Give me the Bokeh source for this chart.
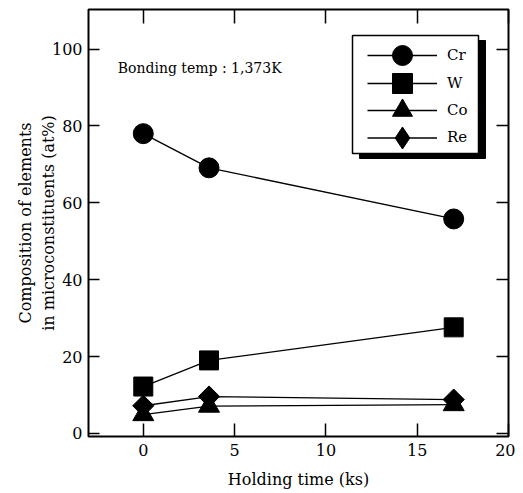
from bokeh.plotting import figure
from bokeh.models import Range1d, LinearAxis, FixedTicker, Legend, LegendItem, Label, BoxAnnotation
from bokeh.embed import file_html
from bokeh.resources import INLINE
import numpy as np

# ---- data ----
holding_time_ks = [0.0, 3.6, 17.0]
cr_at = [78.0, 69.1, 55.8]
w_at = [12.2, 19.0, 27.6]
co_at = [4.9, 7.1, 7.5]
re_at = [7.2, 9.6, 8.8]
series_names = ["Cr", "W", "Co", "Re"]
x_ticks = [0, 5, 10, 15, 20]
y_ticks = [0, 20, 40, 60, 80, 100]
annotation_text = "Bonding temp : 1,373K"
x_title = "Holding time (ks)"
y_title = "Composition of elements\nin microconstituents (at%)"

FONT = "DejaVu Serif"

p = figure(width=515, height=492, output_backend="svg", toolbar_location=None,
           x_range=Range1d(-3, 20), y_range=Range1d(-0.8, 110.3),
           min_border_left=88, min_border_right=7, min_border_top=9, min_border_bottom=56,
           x_axis_label=x_title, y_axis_label=y_title)
p.grid.visible = False
p.outline_line_color = "black"
p.outline_line_width = 2
p.background_fill_color = "white"
p.border_fill_color = "white"


def style_axis(ax, ticks, tick_len, show_labels, standoff=6, label_standoff=0):
    ax.ticker = FixedTicker(ticks=ticks)
    ax.axis_line_color = None
    ax.major_tick_in = tick_len
    ax.major_tick_out = 0
    ax.minor_tick_line_color = None
    ax.major_tick_line_color = "black"
    ax.major_tick_line_width = 1.5
    ax.major_label_text_font = FONT
    ax.axis_label_text_font = FONT
    ax.axis_label_text_font_style = "normal"
    ax.axis_label_text_font_size = "16px"
    ax.axis_label_text_color = "black"
    ax.axis_label_standoff = label_standoff
    if show_labels:
        ax.major_label_text_color = "black"
        ax.major_label_text_font_size = "16px"
        ax.major_label_standoff = standoff
    else:
        ax.major_label_text_color = None
        ax.major_label_text_font_size = "1px"
        ax.major_label_standoff = 0


style_axis(p.xaxis[0], x_ticks, 13, True, standoff=7, label_standoff=11)
style_axis(p.yaxis[0], y_ticks, 11, True, standoff=6, label_standoff=-9)
top_axis = LinearAxis()
style_axis(top_axis, x_ticks, 14, False)
p.add_layout(top_axis, "above")
right_axis = LinearAxis()
style_axis(right_axis, y_ticks, 12, False)
p.add_layout(right_axis, "right")

line_kw = dict(line_color="black", line_width=1.3)
values = [cr_at, w_at, co_at, re_at]
markers = [dict(marker="circle", size=20),
           dict(marker="square", size=19),
           dict(marker="triangle", size=21),
           dict(marker="square", size=15, angle=np.pi / 4)]

lines, marks = [], []
for vals, mk in zip(values, markers):
    lines.append(p.line(holding_time_ks, vals, **line_kw))
    marks.append(p.scatter(holding_time_ks, vals, color="black", **mk))

# legend-only diamond glyph (legend markers are drawn unrotated); no visible point
re_legend_glyph = p.scatter([float("nan")], [float("nan")], marker="diamond", color="black")
legend_marks = [marks[0], marks[1], marks[2], re_legend_glyph]

# legend frame with drop shadow (screen units, relative to the plot frame)
box_units = dict(left_units="screen", right_units="screen", top_units="screen", bottom_units="screen")
p.add_layout(BoxAnnotation(left=271, right=397, top=396, bottom=278, **box_units,
                           fill_color="black", fill_alpha=1, line_color="black", line_alpha=1))
p.add_layout(BoxAnnotation(left=264, right=390, top=401, bottom=283, **box_units,
                           fill_color="white", fill_alpha=1, line_color="black", line_width=1.5,
                           line_alpha=1))

row_centers = [381, 353.5, 326.5, 299]
glyph_heights = [50, 50, 50, 55]
for name, ln, mk, cy, gh in zip(series_names, lines, legend_marks, row_centers, glyph_heights):
    lg = Legend(items=[LegendItem(label=name, renderers=[ln, mk])],
                location=(279, cy - gh / 2), glyph_width=70, glyph_height=gh,
                padding=0, margin=0, spacing=0, label_standoff=10,
                label_text_font=FONT, label_text_font_size="15px", label_text_color="black",
                background_fill_alpha=0, border_line_alpha=0)
    p.add_layout(lg, "center")

p.add_layout(Label(x=-1.4, y=95.2, text=annotation_text, text_font=FONT, text_font_size="14px",
                   text_baseline="middle", text_align="left", text_color="black"))

open("out.html", "w").write(file_html(p, INLINE))
